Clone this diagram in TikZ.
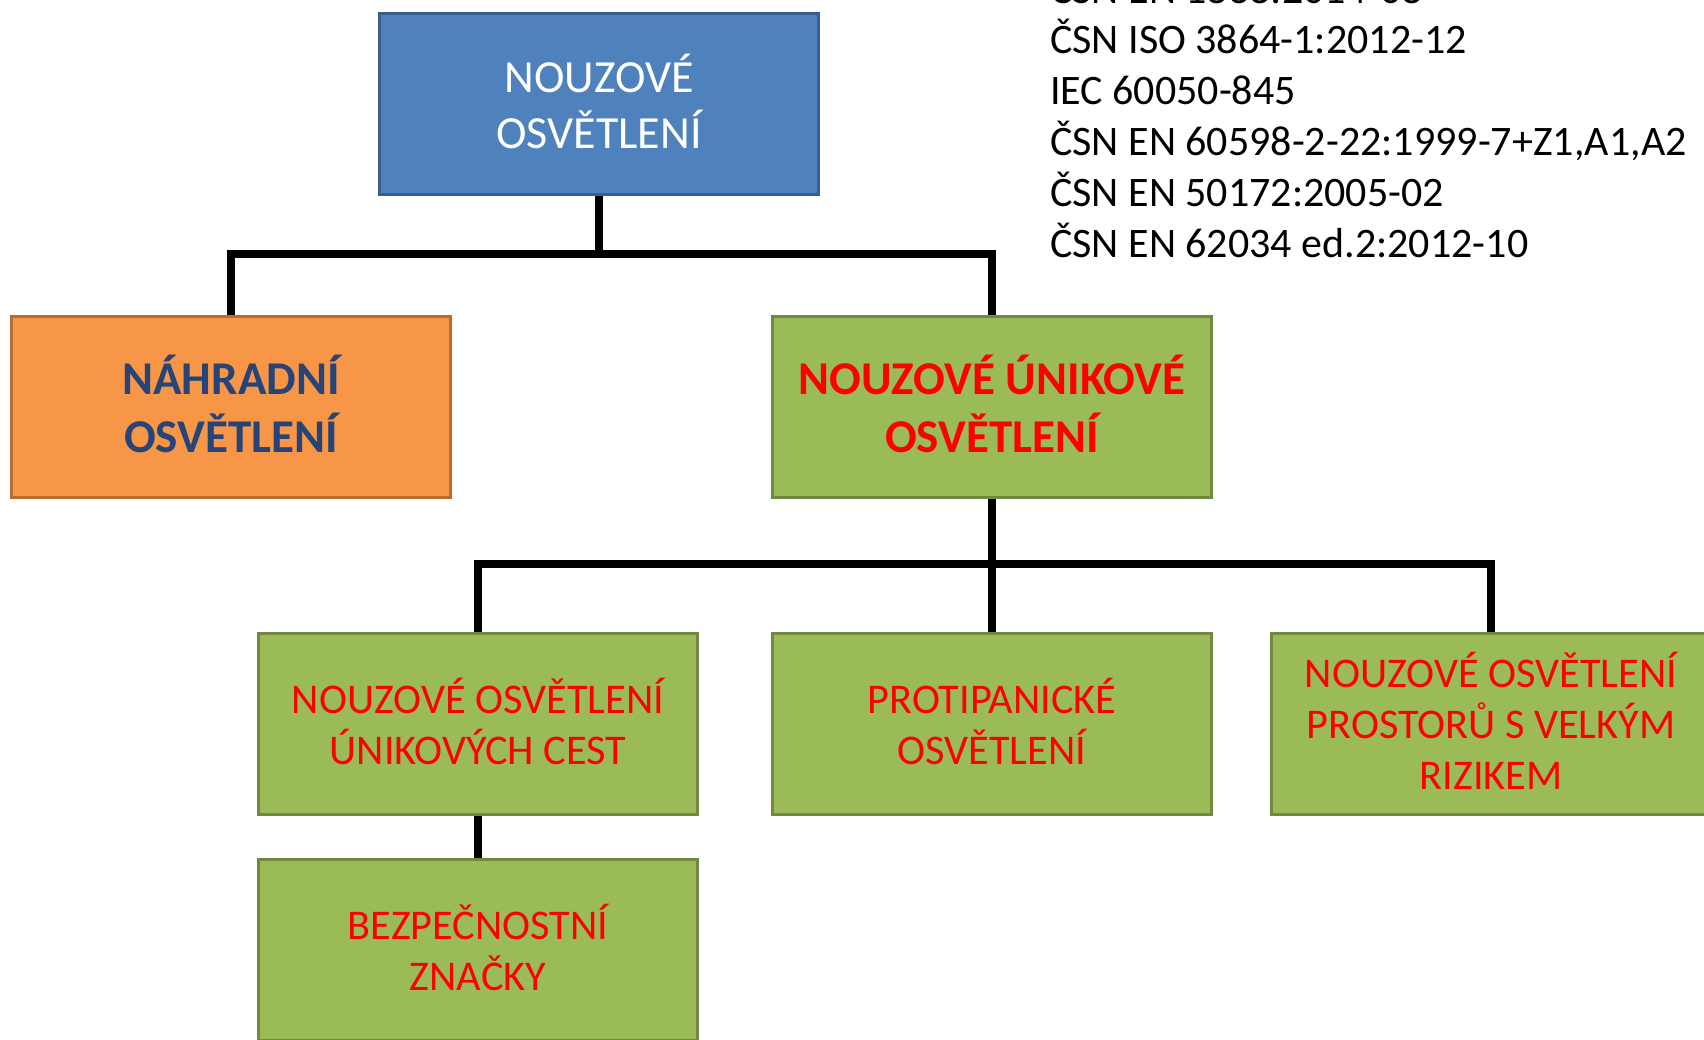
\documentclass[tikz,border=0pt]{standalone}
\usepackage{fontspec}
\setmainfont{Carlito}
\usetikzlibrary{backgrounds}
\definecolor{blueF}{HTML}{4F81BD}
\definecolor{blueD}{HTML}{3A5F8B}
\definecolor{orangeF}{HTML}{F79646}
\definecolor{orangeD}{HTML}{B66D31}
\definecolor{greenF}{HTML}{9BBB59}
\definecolor{greenD}{HTML}{71893F}
\definecolor{darkText}{HTML}{264478}
\definecolor{redText}{HTML}{FF0000}
\begin{document}
\begin{tikzpicture}[x=1pt,y=-1pt,
  box/.style={draw, line width=3pt, minimum width=439pt, minimum height=181pt, align=center, inner sep=0pt, text depth=6pt},
  bluebox/.style={box, fill=blueF, draw=blueD, text=white, font=\fontsize{46}{56}\selectfont},
  orangebox/.style={box, fill=orangeF, draw=orangeD, text=darkText, font=\bfseries\fontsize{47}{58}\selectfont},
  greenbold/.style={box, fill=greenF, draw=greenD, text=redText, font=\bfseries\fontsize{47}{58}\selectfont},
  greenbox/.style={box, fill=greenF, draw=greenD, text=redText, font=\fontsize{42.3}{51}\selectfont},
  conn/.style={line width=7.5pt, black, line join=miter},
  stdline/.style={anchor=base west, inner sep=0pt, font=\fontsize{42}{51}\selectfont}
]
\useasboundingbox (0,0) rectangle (1704,1039);

\node[bluebox] (top) at (599,104) {NOUZOVÉ\\OSVĚTLENÍ};
\node[orangebox] (nahr) at (231,406.5) {NÁHRADNÍ\\OSVĚTLENÍ};
\node[greenbold] (unik) at (992,407) {NOUZOVÉ ÚNIKOVÉ\\OSVĚTLENÍ};
\node[greenbox] (cest) at (478,724) {NOUZOVÉ OSVĚTLENÍ\\ÚNIKOVÝCH CEST};
\node[greenbox] (panic) at (992,724) {PROTIPANICKÉ\\OSVĚTLENÍ};
\node[greenbox] (riziko) at (1491,724) {NOUZOVÉ OSVĚTLENÍ\\PROSTORŮ S VELKÝM\\RIZIKEM};
\node[greenbox] (znacky) at (478,950) {BEZPEČNOSTNÍ\\ZNAČKY};

\coordinate (j1) at (599,254);
\coordinate (j2) at (992,564);

\begin{scope}[on background layer]
\draw[conn] (top.south) -- (j1);
\draw[conn] (nahr.north) |- (j1) -| (unik.north);
\draw[conn] (unik.south) -- (panic.north);
\draw[conn] (cest.north) |- (j2) -| (riziko.north);
\draw[conn] (cest.south) -- (znacky.north);
\end{scope}

\node[stdline] (s1) at (1050,3) {ČSN EN 1838:2014-08};
\node[stdline] (s2) at (1050,53) {ČSN ISO 3864-1:2012-12};
\node[stdline] (s3) at (1050,104) {IEC 60050-845};
\node[stdline] (s4) at (1050,155) {ČSN EN 60598-2-22:1999-7+Z1,A1,A2};
\node[stdline] (s5) at (1050,206) {ČSN EN 50172:2005-02};
\node[stdline] (s6) at (1050,257) {ČSN EN 62034 ed.2:2012-10};
\end{tikzpicture}
\end{document}
